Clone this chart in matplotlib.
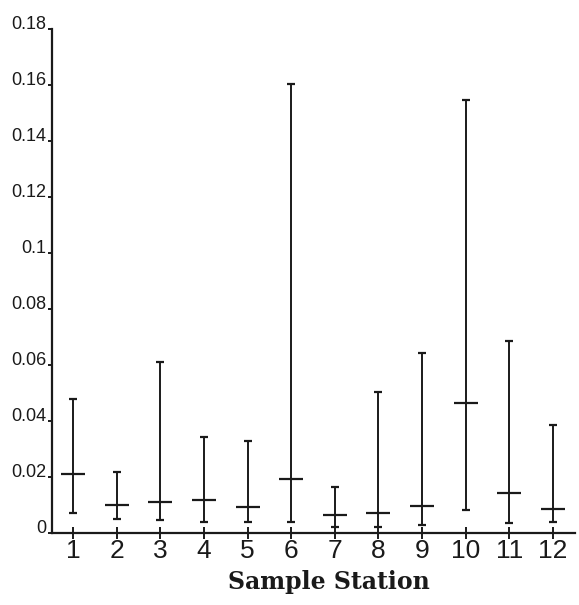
import matplotlib
matplotlib.use("Agg")
import matplotlib.pyplot as plt

# values
stations = [1, 2, 3, 4, 5, 6, 7, 8, 9, 10, 11, 12]
max_vals = [0.0478, 0.0219, 0.0611, 0.0342, 0.0329, 0.1602,
            0.0163, 0.0505, 0.0644, 0.1546, 0.0687, 0.0385]
mean_vals = [0.0211, 0.0100, 0.0110, 0.0118, 0.0092, 0.0192,
             0.0064, 0.0070, 0.0096, 0.0463, 0.0144, 0.0085]
min_vals = [0.0070, 0.0049, 0.0046, 0.0040, 0.0040, 0.0040,
            0.0023, 0.0023, 0.0029, 0.0082, 0.0035, 0.0040]
ytick_vals = [0, 0.02, 0.04, 0.06, 0.08, 0.1, 0.12, 0.14, 0.16, 0.18]
ytick_labels = ["0", "0.02", "0.04", "0.06", "0.08", "0.1", "0.12", "0.14", "0.16", "0.18"]

sans = ["Liberation Sans", "DejaVu Sans"]
ink = "#1a1a1a"

fig = plt.figure(figsize=(5.79, 6.05), dpi=100)
ax = fig.add_axes([0.0898, 0.119, 0.903, 0.833])

ax.vlines(stations, min_vals, max_vals, color=ink, lw=1.4)
ax.plot(stations, max_vals, "_", color=ink, ms=6, mew=1.6)
ax.plot(stations, min_vals, "_", color=ink, ms=6, mew=1.6)
ax.plot(stations, mean_vals, "_", color=ink, ms=17, mew=1.6)

ax.set_xlim(0.52, 12.5)
ax.set_ylim(0, 0.18)

for s in ["top", "right"]:
    ax.spines[s].set_visible(False)
for s in ["left", "bottom"]:
    ax.spines[s].set_linewidth(1.6)
    ax.spines[s].set_color(ink)

ax.set_xticks(stations)
ax.set_xticklabels([str(s) for s in stations], family=sans, fontsize=19, color=ink)
ax.tick_params(axis="x", direction="inout", length=8, width=1.4, pad=0, colors=ink)

ax.set_yticks(ytick_vals)
ax.set_yticklabels(ytick_labels, family=sans, fontsize=13, color=ink, va="baseline")
ax.tick_params(axis="y", direction="out", length=3, width=1.4, pad=1, colors=ink)

ax.set_xlabel("Sample Station", family="DejaVu Serif", fontweight="bold",
              fontsize=17, color=ink)
ax.xaxis.set_label_coords(0.529, -0.073)

fig.savefig("out.png", dpi=100)
